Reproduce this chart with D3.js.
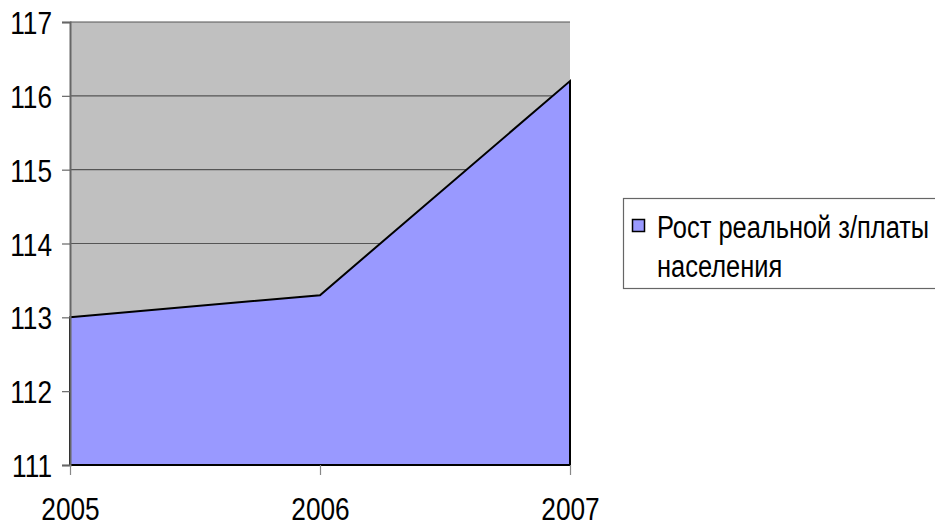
<!DOCTYPE html>
<html><head><meta charset="utf-8">
<script src="https://cdn.jsdelivr.net/npm/d3@7"></script>
<style>
body{margin:0;background:#fff;}
svg text{font-family:"Liberation Sans Narrow","Liberation Sans",Arial,sans-serif;fill:#000;}
</style></head>
<body><svg id="c" width="935" height="526"></svg>
<script>
const years = ["2005","2006","2007"];
const values = [113.0, 113.3, 116.2];
const yTicks = [111,112,113,114,115,116,117];
const seriesName = ["Рост реальной з/платы", "населения"];

const svg = d3.select("#c");
const L=70, R=570, T=22, B=465;
const x = d3.scalePoint().domain(years).range([L,R]);
const y = d3.scaleLinear().domain([111,117]).range([B,T]);

// condense text to mimic Arial Narrow
function narrow(sel){
  sel.each(function(){
    const w = this.getComputedTextLength();
    d3.select(this).attr("textLength", w*0.82).attr("lengthAdjust","spacingAndGlyphs");
  });
}

svg.append("rect").attr("x",L).attr("y",T).attr("width",R-L).attr("height",B-T).attr("fill","#c0c0c0");
svg.append("g").selectAll("line").data(yTicks.slice(1)).join("line")
  .attr("x1",L).attr("x2",R).attr("y1",d=>y(d)).attr("y2",d=>y(d))
  .attr("stroke","#555").attr("stroke-width",1.2);

const data = years.map((k,i)=>({k,v:values[i]}));
const area = d3.area().x(d=>x(d.k)).y0(y(111)).y1(d=>y(d.v));
svg.append("path").datum(data).attr("d",area).attr("fill","#9999ff")
  .attr("stroke","#000").attr("stroke-width",2).attr("stroke-linejoin","miter");

const ya = d3.axisLeft(y).tickValues(yTicks).tickSize(8).tickPadding(10).tickFormat(d3.format("d"));
const gy = svg.append("g").attr("transform",`translate(${L},0)`).call(ya);
gy.select(".domain").attr("stroke","#666").attr("stroke-width",2);
gy.selectAll(".tick line").attr("stroke","#666").attr("stroke-width",1.2);
gy.selectAll("text").attr("font-size",32).attr("dy","0.36em").attr("font-family",null).call(narrow);

const xa = d3.axisBottom(x).tickSize(10).tickPadding(22);
const gx = svg.append("g").attr("transform",`translate(0,${B})`).call(xa);
gx.select(".domain").remove();
gx.selectAll(".tick line").attr("stroke","#888").attr("stroke-width",1.2);
gx.selectAll("text").attr("font-size",32).attr("dy","0.71em").attr("font-family",null).call(narrow);

const lg = svg.append("g");
lg.append("rect").attr("x",623.5).attr("y",198.5).attr("width",330).attr("height",90)
  .attr("fill","#fff").attr("stroke","#666").attr("stroke-width",1.2);
lg.append("rect").attr("x",632.5).attr("y",219.5).attr("width",12).attr("height",12)
  .attr("fill","#9999ff").attr("stroke","#000").attr("stroke-width",1.5);
lg.selectAll("text.l").data(seriesName).join("text").attr("class","l")
  .attr("x",657).attr("y",(d,i)=>238+i*39).attr("font-size",31).text(d=>d).call(narrow);
</script></body></html>
